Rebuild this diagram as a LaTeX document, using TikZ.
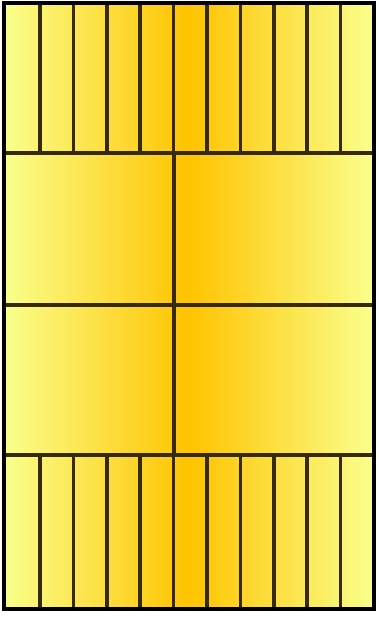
\documentclass[tikz,border=0pt]{standalone}
\usepackage{tikz}
\definecolor{paleyellow}{RGB}{250,255,140}
\definecolor{goldcore}{RGB}{255,195,0}
\definecolor{barline}{RGB}{55,42,12}

\begin{document}
\begin{tikzpicture}[x=1pt, y=-1pt,
    stripline/.style={draw=barline, line width=3.6pt},
    frameline/.style={draw=black, line width=4.5pt}]
    \useasboundingbox (0,0) rectangle (378,617);
    % shaded body
    \shade[left color=paleyellow, right color=paleyellow, middle color=goldcore] (4,3) rectangle (374,609);

    % thin strips, top and bottom bands
    \foreach \i in {0,...,9} {
        \draw[stripline] ({40+33.4*\i},3) -- ({40+33.4*\i},153);
        \draw[stripline] ({40+33.4*\i},455) -- ({40+33.4*\i},609);
    }

    % middle bands
    \draw[stripline] (174,153) -- (174,455);
    \draw[stripline] (4,153) -- (374,153);
    \draw[stripline] (4,305) -- (374,305);
    \draw[stripline] (4,455) -- (374,455);

    % outer frame
    \draw[frameline] (4,3) rectangle (374,609);
\end{tikzpicture}
\end{document}
